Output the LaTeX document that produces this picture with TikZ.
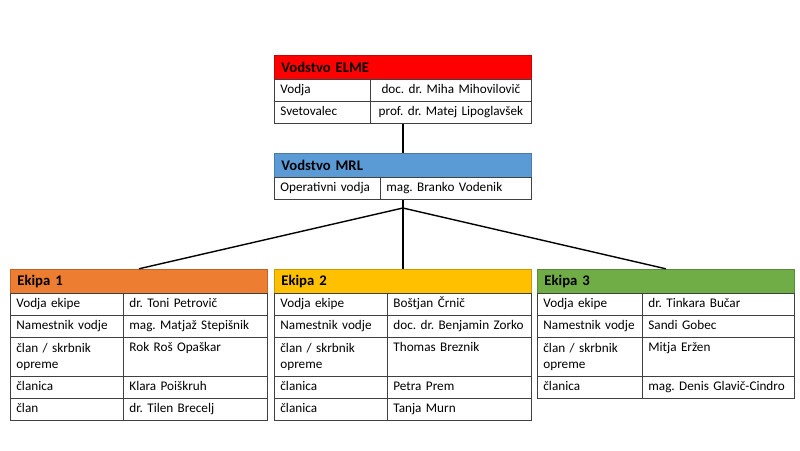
\documentclass[tikz,border=0pt]{standalone}
\usepackage{fontspec}
\setmainfont{Carlito}
\usetikzlibrary{positioning,fit}
\frenchspacing

\begin{document}
\begin{tikzpicture}[
  x=1pt,
  y=-1pt,
  font=\fontsize{13.2}{16}\selectfont,
  head/.style={anchor=north west,minimum height=24pt,inner xsep=7pt,
    inner ysep=0pt,text width=243pt,align=left,line width=0.8pt,
    font=\fontsize{14.7}{17}\selectfont\bfseries},
  cellbase/.style={draw=cellline,anchor=north west,inner xsep=6pt,
    inner ysep=0pt,align=left,line width=0.8pt},
  cell/.style={cellbase,minimum height=22pt,text height=10pt,text depth=3.5pt},
  tallcell/.style={cellbase,minimum height=39pt},
  link/.style={draw=black,line width=1.4pt},
  box/.style={inner sep=0pt}
]
  \definecolor{cellline}{HTML}{404040}
  \definecolor{elmered}{HTML}{FF0000}
  \definecolor{mrlblue}{HTML}{5B9BD5}
  \definecolor{ekorange}{HTML}{ED7D31}
  \definecolor{ekgold}{HTML}{FFC000}
  \definecolor{ekgreen}{HTML}{70AD47}

  \useasboundingbox (0,0) rectangle (800,450);

  \node[head,fill=elmered,draw=elmered!80!black] (elme) at (274,55) {Vodstvo ELME};
  \node[cell,text width=84pt] (elmeA1) at (274,79) {Vodja};
  \node[cell,text width=149pt,align=center] (elmeB1) at (370,79)
    {doc. dr. Miha Mihovilovič};
  \node[cell,text width=84pt] (elmeA2) at (274,101) {Svetovalec};
  \node[cell,text width=149pt,align=center] (elmeB2) at (370,101)
    {prof. dr. Matej Lipoglavšek};
  \node[box,fit=(elme)(elmeB2)] (elmeBox) {};

  \node[head,fill=mrlblue,draw=mrlblue!80!black] (mrl) at (274,153) {Vodstvo MRL};
  \node[cell,text width=94pt] (mrlA1) at (274,177) {Operativni vodja};
  \node[cell,text width=139pt] (mrlB1) at (380,177) {mag. Branko Vodenik};
  \node[box,fit=(mrl)(mrlB1)] (mrlBox) {};

  \node[head,fill=ekorange,draw=ekorange!80!black] (ek1) at (10,269) {Ekipa 1};
  \node[cell,text width=101pt] (ek1A1) at (10,293) {Vodja ekipe};
  \node[cell,text width=132pt] (ek1B1) at (123,293) {dr. Toni Petrovič};
  \node[cell,text width=101pt] (ek1A2) at (10,315) {Namestnik vodje};
  \node[cell,text width=132pt] (ek1B2) at (123,315) {mag. Matjaž Stepišnik};
  \node[tallcell,text width=101pt] (ek1A3) at (10,337) {član / skrbnik\\opreme};
  \node[tallcell,text width=132pt] (ek1B3) at (123,337) {Rok Roš Opaškar\\\strut};
  \node[cell,text width=101pt] (ek1A4) at (10,376) {članica};
  \node[cell,text width=132pt] (ek1B4) at (123,376) {Klara Poiškruh};
  \node[cell,text width=101pt] (ek1A5) at (10,398) {član};
  \node[cell,text width=132pt] (ek1B5) at (123,398) {dr. Tilen Brecelj};
  \node[box,fit=(ek1)(ek1B5)] (ek1Box) {};

  \node[head,fill=ekgold,draw=ekgold!80!black] (ek2) at (274,269) {Ekipa 2};
  \node[cell,text width=101pt] (ek2A1) at (274,293) {Vodja ekipe};
  \node[cell,text width=132pt] (ek2B1) at (387,293) {Boštjan Črnič};
  \node[cell,text width=101pt] (ek2A2) at (274,315) {Namestnik vodje};
  \node[cell,text width=132pt] (ek2B2) at (387,315) {doc. dr. Benjamin Zorko};
  \node[tallcell,text width=101pt] (ek2A3) at (274,337) {član / skrbnik\\opreme};
  \node[tallcell,text width=132pt] (ek2B3) at (387,337) {Thomas Breznik\\\strut};
  \node[cell,text width=101pt] (ek2A4) at (274,376) {članica};
  \node[cell,text width=132pt] (ek2B4) at (387,376) {Petra Prem};
  \node[cell,text width=101pt] (ek2A5) at (274,398) {članica};
  \node[cell,text width=132pt] (ek2B5) at (387,398) {Tanja Murn};
  \node[box,fit=(ek2)(ek2B5)] (ek2Box) {};

  \node[head,fill=ekgreen,draw=ekgreen!80!black] (ek3) at (537,269) {Ekipa 3};
  \node[cell,text width=93pt] (ek3A1) at (537,293) {Vodja ekipe};
  \node[cell,text width=140pt] (ek3B1) at (642,293) {dr. Tinkara Bučar};
  \node[cell,text width=93pt] (ek3A2) at (537,315) {Namestnik vodje};
  \node[cell,text width=140pt] (ek3B2) at (642,315) {Sandi Gobec};
  \node[tallcell,text width=93pt] (ek3A3) at (537,337) {član / skrbnik\\opreme};
  \node[tallcell,text width=140pt] (ek3B3) at (642,337) {Mitja Eržen\\\strut};
  \node[cell,text width=93pt] (ek3A4) at (537,376) {članica};
  \node[cell,text width=140pt] (ek3B4) at (642,376) {mag. Denis Glavič-Cindro};
  \node[box,fit=(ek3)(ek3B4)] (ek3Box) {};

  \coordinate[below=8pt of mrlBox.south] (split);

  \draw[link] (elmeBox.south) -- (mrlBox.north);
  \draw[link] (mrlBox.south) -- (split);
  \draw[link] (split) -- (ek1Box.north);
  \draw[link] (split) -- (ek2Box.north);
  \draw[link] (split) -- (ek3Box.north);
\end{tikzpicture}
\end{document}
